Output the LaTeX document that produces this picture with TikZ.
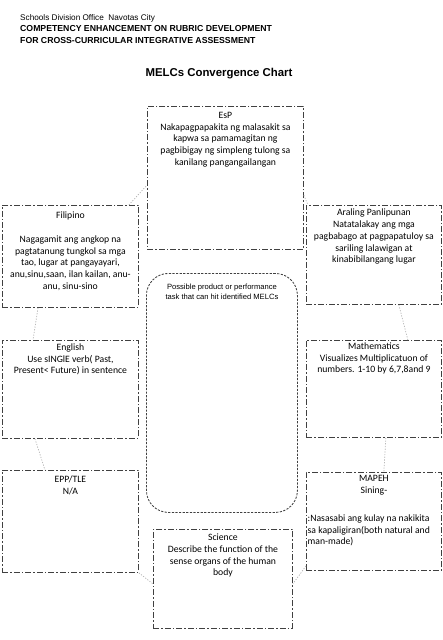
\documentclass[tikz,border=0pt]{standalone}
\usepackage{fontspec}
\setmainfont{Carlito}
\newfontfamily\arialf{Liberation Sans}
\usetikzlibrary{calc}
\begin{document}
\begin{tikzpicture}[x=1pt,y=-1pt,
  sbox/.style={draw=black!75, line width=0.85pt, dash pattern=on 6pt off 2pt on 1.5pt off 2pt, anchor=north west, inner sep=0pt},
  btext/.style={anchor=north, inner sep=0pt, align=center, font=\fontsize{9.7}{11.7}\selectfont},
  cbox/.style={draw=black!75, line width=0.85pt, dash pattern=on 2.2pt off 1.4pt, rounded corners=22pt, anchor=north west, inner sep=0pt},
  link/.style={draw=black!30, line width=0.7pt, dash pattern=on 1.2pt off 1.5pt},
  hdr/.style={anchor=base west, inner sep=0pt, font=\arialf\fontsize{8.2}{10}\selectfont},
  hdrb/.style={anchor=base west, inner sep=0pt, font=\arialf\bfseries\fontsize{8.7}{10}\selectfont}]
\useasboundingbox (0,0) rectangle (443,640);

% header
\node[hdr] (h1) at (20,20) {Schools Division Office\ \ Navotas City};
\node[hdrb] (h2) at (20,31.5) {COMPETENCY ENHANCEMENT ON RUBRIC DEVELOPMENT};
\node[hdrb] (h3) at (20,43) {FOR CROSS-CURRICULAR INTEGRATIVE ASSESSMENT};
\node[anchor=base, inner sep=0pt, font=\arialf\bfseries\fontsize{11.4}{13}\selectfont] (title) at (219,76) {MELCs Convergence Chart};

% boxes
\node[sbox, minimum width=156pt, minimum height=143pt] (esp) at (147,106) {};
\node[sbox, minimum width=136pt, minimum height=102pt] (fil) at (2,205) {};
\node[sbox, minimum width=135pt, minimum height=99pt] (ap) at (306,205) {};
\node[cbox, minimum width=151pt, minimum height=239pt] (ctr) at (146,273) {};
\node[sbox, minimum width=136pt, minimum height=98pt] (eng) at (2,340) {};
\node[sbox, minimum width=135pt, minimum height=97pt] (math) at (306,340) {};
\node[sbox, minimum width=136pt, minimum height=102pt] (epp) at (2,470) {};
\node[sbox, minimum width=135pt, minimum height=98pt] (mapeh) at (306,472) {};
\node[sbox, minimum width=139pt, minimum height=99pt] (sci) at (153,529) {};

% texts
\node[btext] (esp-t) at ([yshift=-6pt]esp.north) {EsP\\Nakapagpapakita ng malasakit sa\\kapwa sa pamamagitan ng\\pagbibigay ng simpleng tulong sa\\kanilang pangangailangan};
\node[btext] (fil-t) at ([yshift=-7pt]fil.north) {Filipino\\[11.7pt]Nagagamit ang angkop na\\pagtatanung tungkol sa mga\\tao, lugar at pangayayari,\\anu,sinu,saan, ilan kailan, anu-\\anu, sinu-sino};
\node[btext] (ap-t) at ([yshift=-4pt]ap.north) {Araling Panlipunan\\Natatalakay ang mga\\pagbabago at pagpapatuloy sa\\sariling lalawigan at\\kinabibilangang lugar};
\node[btext, font=\arialf\fontsize{7.6}{9.4}\selectfont] (ctr-t) at ([yshift=-11pt]ctr.north) {Possible product or performance\\task that can hit identified MELCs};
\node[btext] (eng-t) at ([yshift=-3.5pt]eng.north) {English\\Use sINGlE verb( Past,\\Present< Future) in sentence};
\node[btext] (math-t) at ([yshift=-2.5pt]math.north) {Mathematics\\Visualizes Multiplicatuon of\\numbers. 1-10 by 6,7,8and 9};
\node[btext] (epp-t) at ([yshift=-6pt]epp.north) {EPP/TLE\\N/A};
\node[btext] (mapeh-t) at ([yshift=-3pt]mapeh.north) {MAPEH\\Sining-};
\node[anchor=north west, inner sep=0pt, align=left, font=\fontsize{9.7}{11.3}\selectfont] (mapeh-d) at ([xshift=1.5pt,yshift=-43pt]mapeh.north west) {:Nasasabi ang kulay na nakikita\\sa kapaligiran(both natural and\\man-made)};
\node[btext] (sci-t) at ([yshift=-5pt]sci.north) {Science\\Describe the function of the\\sense organs of the human\\body};

% connectors
\draw[link] ([xshift=-10pt]fil.north east) -- ($(esp.north west)!0.55!(esp.south west)$);
\draw[link] ($(esp.north east)!0.62!(esp.south east)$) -- ([xshift=2pt]ap.north west);
\draw[link] ([xshift=-43pt]ap.south east) -- ([xshift=-34pt]math.north east);
\draw[link] ([xshift=-56pt]math.south east) -- ([xshift=-58pt]mapeh.north east);
\draw[link] ($(mapeh.north west)!0.95!(mapeh.south west)$) -- ($(sci.north east)!0.55!(sci.south east)$);
\draw[link] (epp.south east) -- ($(sci.north west)!0.55!(sci.south west)$);
\draw[link] ([xshift=33pt]eng.south west) -- ([xshift=43pt]epp.north west);
\draw[link] ([xshift=36pt]fil.south west) -- ([xshift=31pt]eng.north west);
\end{tikzpicture}
\end{document}
